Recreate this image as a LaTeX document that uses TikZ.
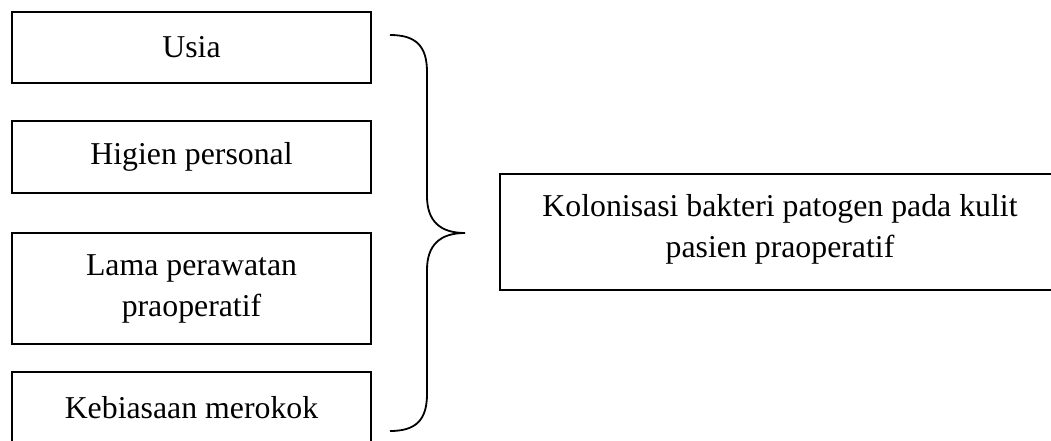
\documentclass[tikz,border=0pt]{standalone}
\usepackage{fontspec}
\setmainfont{Liberation Serif}
\tikzset{
  factor/.style={draw, line width=0.9pt, minimum width=179.5pt, align=center, inner sep=0pt,
    font=\fontsize{15.9pt}{20.5pt}\selectfont},
  outcome/.style={align=center, inner sep=0pt, font=\fontsize{15.9pt}{20.5pt}\selectfont}
}
\begin{document}
\begin{tikzpicture}[x=0.5pt, y=-0.5pt]
        \useasboundingbox (0,0) rectangle (1051,440);
        % factors on the left
        \node [factor, minimum height=35.5pt] (usia) at (191.5,47.5) {Usia};
        \node [factor, minimum height=36pt] (higien) at (191.5,157) {Higien personal};
        \node [factor, minimum height=55.5pt] (lama) at (191.5,288.5) {Lama perawatan\\praoperatif};
        \node [factor, minimum height=36pt] (rokok) at (191.5,408) {Kebiasaan merokok};
        % brace
        \coordinate (tip) at (465,233);
        \draw [line width=0.9pt] (390,35) .. controls (416,35) and (427,46) .. (427,72) -- (427,196)
            .. controls (427,221) and (440,233) .. (tip)
            .. controls (440,233) and (427,245) .. (427,270) -- (427,394)
            .. controls (427,420) and (416,431) .. (390,431);
        % outcome, box runs off the right side
        \draw [line width=0.9pt] (500,174) rectangle (1080,290);
        \node [outcome] (kolonisasi) at (780,229) {Kolonisasi bakteri patogen pada kulit\\pasien praoperatif};
\end{tikzpicture}
\end{document}
